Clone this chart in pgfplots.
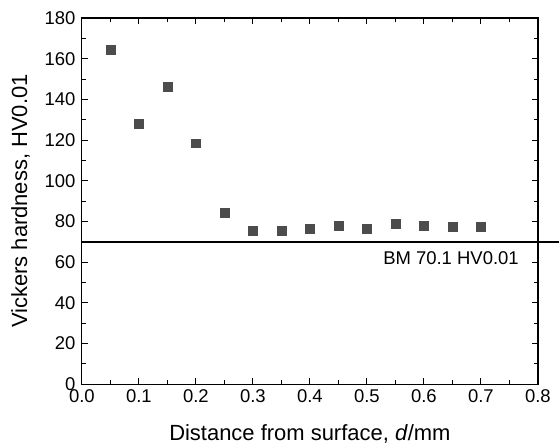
\documentclass[border=0pt]{standalone}
\usepackage{fontspec}
\setmainfont{Liberation Sans}
\usepackage{pgfplots}
\pgfplotsset{compat=1.18}
\begin{document}
\begin{tikzpicture}
\begin{axis}[
    scale only axis,
    width=457pt, height=367pt,
    xmin=0, xmax=0.8, ymin=0, ymax=180,
    xtick={0,0.1,...,0.8}, ytick={0,20,...,180},
    minor x tick num=1, minor y tick num=1,
    tick align=inside,
    major tick length=6pt, minor tick length=4pt,
    every tick/.style={black, line width=1pt},
    axis line style={line width=1.3pt},
    /pgf/number format/assume math mode=true,
    tick label style={font=\fontsize{18.5}{20}\selectfont},
    xticklabel style={yshift=-2pt, /pgf/number format/fixed,
        /pgf/number format/fixed zerofill, /pgf/number format/precision=1},
    yticklabel style={xshift=-3pt},
    clip=false,
]
\addplot[only marks, mark=square*, mark size=4.4pt, color=black!70] coordinates {
    (0.05,164.3) (0.10,128) (0.15,146.3) (0.20,118.5) (0.25,84.3)
    (0.30,75.5) (0.35,75.3) (0.40,76.5) (0.45,78) (0.50,76.3)
    (0.55,79) (0.60,78) (0.65,77.3) (0.70,77.3)
};
\addplot[black, line width=2pt] coordinates {(0,70.1) (0.837,70.1)};
\node[anchor=base east, inner sep=0pt, font=\fontsize{18.5}{20}\selectfont] at (axis cs:0.7667,58.8) {BM 70.1 HV0.01};
% axis labels placed explicitly
\node[anchor=base, inner sep=0pt, font=\fontsize{22}{24}\selectfont] at ([yshift=-56pt]rel axis cs:0.5,0) {Distance from surface, \textit{d}/mm};
\node[rotate=90, anchor=north, inner sep=0pt, font=\fontsize{22}{24}\selectfont] at ([xshift=-71pt]rel axis cs:0,0.5) {Vickers hardness, HV0.01};
% page extent
\path ([xshift=-82pt, yshift=-62pt]rel axis cs:0,0) ([xshift=21pt, yshift=18pt]rel axis cs:1,1);
\end{axis}
\end{tikzpicture}
\end{document}
